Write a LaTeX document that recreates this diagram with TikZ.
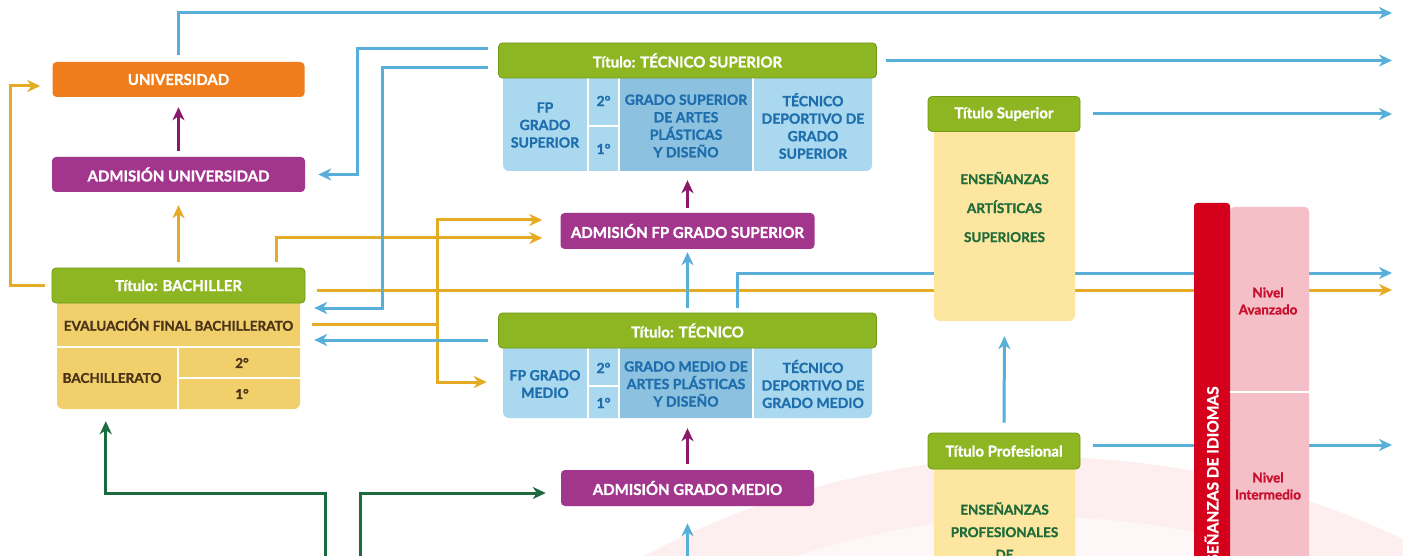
\documentclass[tikz,border=0pt]{standalone}
\usepackage{fontspec}
\setmainfont{Lato}[BoldFeatures={FakeBold=1.2}]
\usetikzlibrary{arrows.meta}
\definecolor{orng}{HTML}{EF7D1B}
\definecolor{purp}{HTML}{A2358C}
\definecolor{hgreen}{HTML}{8DB622}
\definecolor{hgreendk}{HTML}{6F9A17}
\definecolor{ybody}{HTML}{F1CF6B}
\definecolor{ytext}{HTML}{4B3418}
\definecolor{cellb}{HTML}{A9D8EF}
\definecolor{celldb}{HTML}{8CC2DF}
\definecolor{btext}{HTML}{1E6EAD}
\definecolor{ylight}{HTML}{FCE6A0}
\definecolor{gtext}{HTML}{1F6B3A}
\definecolor{idred}{HTML}{D5001B}
\definecolor{idpink}{HTML}{F4BFC7}
\definecolor{rtext}{HTML}{C8102E}
\definecolor{linb}{HTML}{58AFDA}
\definecolor{liny}{HTML}{E6AB25}
\definecolor{ling}{HTML}{1C6B40}
\definecolor{parrow}{HTML}{8B1869}
\definecolor{arcout}{RGB}{253,238,240}
\definecolor{arcin}{RGB}{254,247,248}
\newcommand{\myfs}[2]{\fontsize{#1}{#2}\selectfont}
\pgfdeclarelayer{bgzero}
\pgfdeclarelayer{bglines}
\pgfsetlayers{bgzero,bglines,main}
\begin{document}
\begin{tikzpicture}[x=1pt,y=-1pt,
  lbl/.style={inner sep=0pt, align=center, font=\bfseries\myfs{15}{17}},
  box/.style={lbl, rounded corners=4pt, text=white},
  hdr/.style={box, fill=hgreen, draw=hgreendk, line width=0.8pt},
  bodyy/.style={inner sep=0pt, rounded corners=6pt, fill=ybody},
  bodyb/.style={inner sep=0pt, rounded corners=6pt, fill=cellb},
  bodyl/.style={inner sep=0pt, rounded corners=6pt, fill=ylight},
  ytx/.style={lbl, text=ytext, font=\bfseries\myfs{13.5}{16}},
  btx/.style={lbl, text=btext, font=\bfseries\myfs{14}{17.5}},
  gtx/.style={lbl, text=gtext, font=\bfseries\myfs{13.5}{29}},
  rtx/.style={lbl, text=rtext, font=\bfseries\myfs{13.5}{17}},
  divw/.style={white, line width=2.5pt},
  ln/.style={line width=3pt},
  tipx/.style={-{Stealth[length=13pt,width=12pt,inset=4pt]}},
  barr/.style={ln, draw=linb, tipx},
  yarr/.style={ln, draw=liny, tipx},
  yline/.style={ln, draw=liny},
  garr/.style={ln, draw=ling, tipx},
  parr/.style={ln, draw=parrow, tipx}
]
\useasboundingbox (0,0) rectangle (1403,556);
\clip (0,0) rectangle (1403,556);

% background arcs
\begin{pgfonlayer}{bgzero}
  \clip (0,0) rectangle (1403,556);
  \fill[white] (0,0) rectangle (1403,556);
  \fill[arcout] (1040,1297) circle (840pt);
  \fill[arcin] (1040,1297) circle (780pt);
\end{pgfonlayer}

% ---------- left column ----------
\node[box, fill=orng, minimum width=252pt, minimum height=35pt] (uni) at (178.5,79.5) {UNIVERSIDAD};
\node[box, fill=purp, minimum width=253pt, minimum height=35pt] (admu) at (178.5,174.5) {ADMISIÓN UNIVERSIDAD};
\node[bodyy, minimum width=243pt, minimum height=119pt] (bachb) at (178.5,349.5) {};
\node[hdr, minimum width=253pt, minimum height=35pt] (bachh) at (178.5,285.5) {Título: BACHILLER};
\draw[divw] (57,347) -- (300,347);
\draw[divw] (178,347) -- (178,409);
\draw[divw] (178,378) -- (300,378);
\node[ytx, minimum width=243pt, minimum height=43pt] (eval) at (178.5,324.5) {EVALUACIÓN FINAL BACHILLERATO};
\node[ytx] (bacht) at (112,378) {BACHILLERATO};
\node[ytx] (bsec) at (242,363) {2°};
\node[ytx] (bfir) at (242,394) {1°};

% ---------- Tecnico superior ----------
\node[bodyb, minimum width=369pt, minimum height=111pt] (tsb) at (687.5,115.5) {};
\fill[celldb] (620,78) rectangle (753,171);
\draw[divw] (588,78) -- (588,171);
\draw[divw] (619,78) -- (619,171);
\draw[divw] (753,78) -- (753,171);
\draw[divw] (588,126) -- (619,126);
\node[hdr, minimum width=378pt, minimum height=35pt] (tsh) at (687.5,60.5) {Título: TÉCNICO SUPERIOR};
\node[btx] (sfp) at (545,125) {FP\\GRADO\\SUPERIOR};
\node[btx] (ssec) at (603.5,101) {2°};
\node[btx] (sfir) at (603.5,149) {1°};
\node[btx] (sart) at (686,126) {GRADO SUPERIOR\\DE ARTES\\PLÁSTICAS\\Y DISEÑO};
\node[btx] (sdep) at (813,126) {TÉCNICO\\DEPORTIVO DE\\GRADO\\SUPERIOR};

\node[box, fill=purp, minimum width=254pt, minimum height=36pt] (afs) at (687.5,231) {ADMISIÓN FP GRADO SUPERIOR};

% ---------- Tecnico ----------
\node[bodyb, minimum width=369pt, minimum height=82pt] (tb) at (687.5,377) {};
\fill[celldb] (620,348) rectangle (753,418);
\draw[divw] (588,348) -- (588,418);
\draw[divw] (619,348) -- (619,418);
\draw[divw] (753,348) -- (753,418);
\draw[divw] (588,386) -- (619,386);
\node[hdr, minimum width=378pt, minimum height=35pt] (th) at (687.5,330.5) {Título: TÉCNICO};
\node[btx] (tfp) at (545,384) {FP GRADO\\MEDIO};
\node[btx] (tsec) at (603.5,368) {2°};
\node[btx] (tfir) at (603.5,403) {1°};
\node[btx] (tart) at (686,384) {GRADO MEDIO DE\\ARTES PLÁSTICAS\\Y DISEÑO};
\node[btx] (tdep) at (813,384) {TÉCNICO\\DEPORTIVO DE\\GRADO MEDIO};

\node[box, fill=purp, minimum width=253pt, minimum height=36pt] (agm) at (687.5,488) {ADMISIÓN GRADO MEDIO};

% ---------- Ensenanzas artisticas ----------
\node[bodyl, minimum width=141pt, minimum height=203pt] (esup) at (1004.5,219.5) {};
\node[hdr, minimum width=152pt, minimum height=35pt, font=\bfseries\myfs{15}{17}] (tsup) at (1004,114) {Título Superior};
\node[gtx] (esupt) at (1004.5,207) {ENSEÑANZAS\\ARTÍSTICAS\\SUPERIORES};

\node[bodyl, minimum width=141pt, minimum height=150pt] (eprof) at (1004.5,530) {};
\node[hdr, minimum width=152pt, minimum height=36pt, font=\bfseries\myfs{15}{17}] (tprof) at (1004,451) {Título Profesional};
\node[gtx, font=\bfseries\myfs{13.5}{22.5}] (eproft) at (1004.5,531) {ENSEÑANZAS\\PROFESIONALES\\DE};

% ---------- Idiomas ----------
\node[inner sep=0pt, rounded corners=4pt, fill=idpink, minimum width=79pt, minimum height=393pt] (idp) at (1269.5,403.5) {};
\node[inner sep=0pt, rounded corners=3pt, fill=idred, minimum width=36pt, minimum height=397pt] (idb) at (1212,401.5) {};
\draw[white, line width=1.5pt] (1230,392) -- (1309,392);
\node[lbl, text=white, rotate=90, font=\bfseries\myfs{15.5}{17}] (idt) at (1211.5,485) {ENSEÑANZAS DE IDIOMAS};
\node[rtx] (nava) at (1268,301) {Nivel\\Avanzado};
\node[rtx] (nint) at (1268,486) {Nivel\\Intermedio};

% ---------- free ends ----------
\coordinate (o1) at (1392,13);
\coordinate (o2) at (1392,60.5);
\coordinate (o3) at (1392,114);
\coordinate (o4) at (1392,273);
\coordinate (o5) at (1392,290);
\coordinate (o6) at (1392,445);
\coordinate (ysplit) at (437,324.5);
\coordinate (bin) at (687.5,556);
\coordinate (g1) at (325,556);
\coordinate (g2) at (360,556);

% ---------- connectors ----------
\begin{pgfonlayer}{bglines}
  \clip (0,0) rectangle (1403,556);
  % purple admission arrows
  \draw[parr, shorten <=6pt, shorten >=10pt] (admu.north) -- (uni.south);
  \draw[parr, shorten <=5pt, shorten >=9pt] (afs.north) -- (tsb.south);
  \draw[parr, shorten <=6pt, shorten >=10pt] (agm.north) -- (tb.south);
  % yellow
  \draw[yarr, shorten <=6pt, shorten >=13pt] (bachh.north) -- (admu.south);
  \draw[yarr] ([xshift=-7pt]bachh.west) -- (10,285.5) |- ([xshift=-12pt,yshift=-6.5pt]uni.west);
  \draw[yarr] ([xshift=97.5pt,yshift=6pt]bachh.north) |- ([xshift=-18pt,yshift=-7pt]afs.west);
  \draw[yline] ([xshift=12pt]eval.east) -- (ysplit);
  \draw[yarr] (ysplit) |- ([xshift=-18pt,yshift=11pt]afs.west);
  \draw[yarr] (ysplit) |- ([xshift=-16pt,yshift=-5pt]tb.west);
  \draw[yarr] ([xshift=12pt,yshift=-4.5pt]bachh.east) -- (o5);
  % blue
  \draw[barr] ([yshift=7pt]uni.north) |- (o1);
  \draw[barr] ([xshift=-10pt,yshift=11.5pt]tsh.west) -- (357,49) |- ([xshift=13pt]admu.east);
  \draw[barr] ([xshift=-10pt,yshift=-7.5pt]tsh.west) -- (382,68) |- ([xshift=14pt,yshift=16.5pt]eval.east);
  \draw[barr] ([xshift=-10pt,yshift=-9.5pt]th.west) -- ([xshift=14pt,yshift=-15.5pt]eval.east);
  \draw[barr, shorten <=5pt, shorten >=3pt] (th.north) -- (afs.south);
  \draw[barr] ([xshift=50pt,yshift=5pt]th.north) |- (o4);
  \draw[barr] ([xshift=9pt]tsh.east) -- (o2);
  \draw[barr] ([xshift=13pt]tsup.east) -- (o3);
  \draw[barr] ([xshift=13pt,yshift=6pt]tprof.east) -- (o6);
  \draw[barr, shorten <=10pt, shorten >=15pt] (tprof.north) -- (esup.south);
  \draw[barr, shorten >=17pt] (bin) -- (agm.south);
  % green
  \draw[garr] (g1) -- (325,493) -| ([xshift=49pt,yshift=-12pt]bachb.south west);
  \draw[garr] (g2) |- ([xshift=-15pt,yshift=-5pt]agm.west);
\end{pgfonlayer}
\end{tikzpicture}
\end{document}
